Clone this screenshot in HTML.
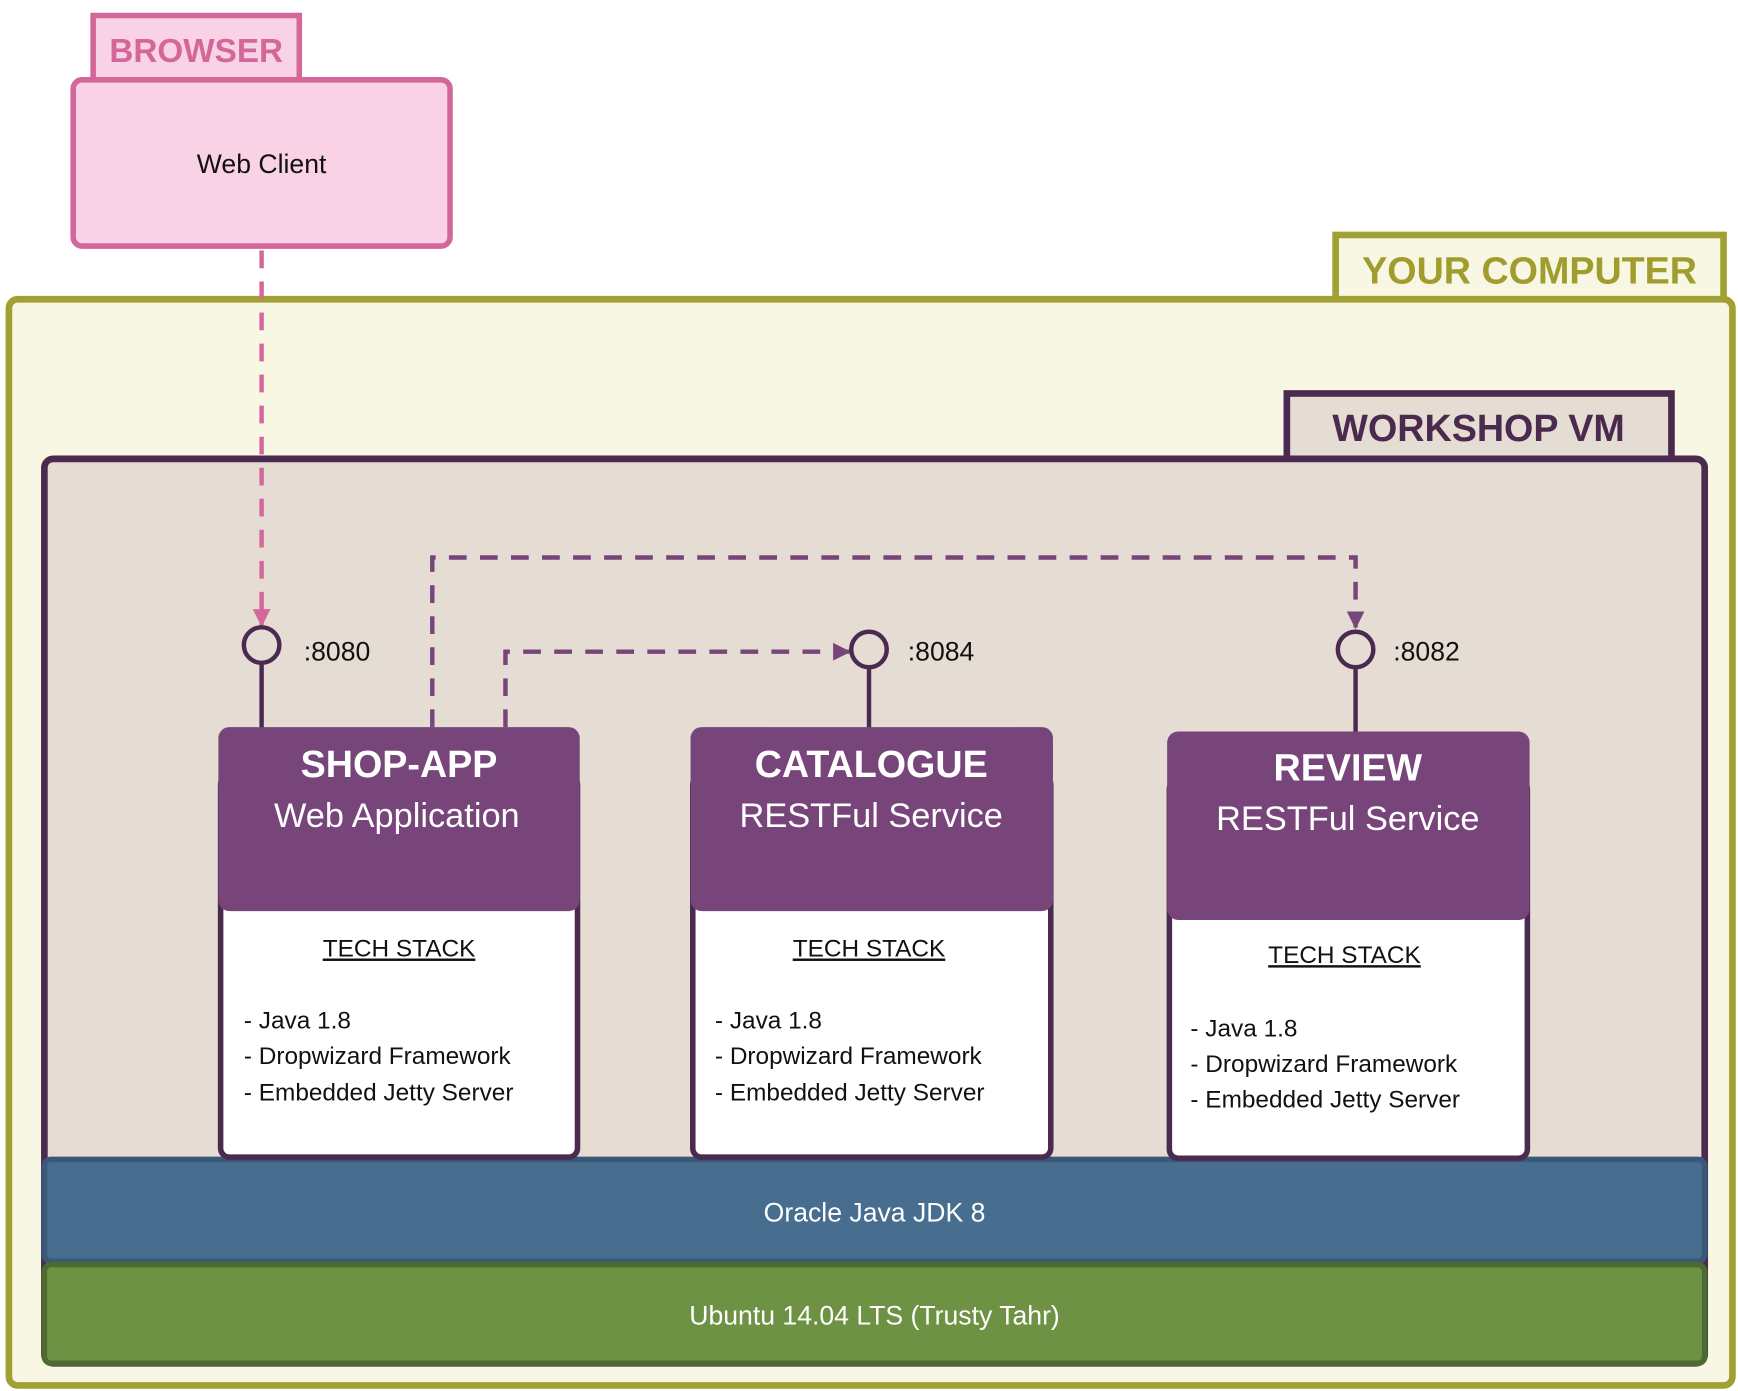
<!DOCTYPE html>
<html><head><meta charset="utf-8"><style>
html,body{margin:0;padding:0;background:#fff}
svg{display:block}
text{font-family:"Liberation Sans",sans-serif}
</style></head><body>
<svg width="1738" height="1391" viewBox="0 0 1568 1255" xmlns="http://www.w3.org/2000/svg">
<defs>
<marker id="ap" viewBox="0 0 10 10" refX="9" refY="5" markerWidth="4" markerHeight="4" orient="auto"><path d="M0,0L10,5L0,10z" fill="#d4679a"/></marker>
<marker id="au" viewBox="0 0 10 10" refX="9" refY="5" markerWidth="4" markerHeight="4" orient="auto"><path d="M0,0L10,5L0,10z" fill="#77457a"/></marker>
</defs>
<!-- Browser -->
<rect x="84" y="14" width="186" height="58" fill="#f9d3e5" stroke="#d4679a" stroke-width="5"/>
<text x="177" y="56" font-size="30" font-weight="bold" fill="#d4679a" text-anchor="middle">BROWSER</text>
<rect x="66" y="72" width="340" height="150" rx="8" fill="#f9d3e5" stroke="#d4679a" stroke-width="5"/>
<text x="236" y="156" font-size="24" fill="#111" text-anchor="middle">Web Client</text>
<!-- Your computer -->
<rect x="1205" y="212" width="350" height="60" fill="#f8f7e3" stroke="#a0a033" stroke-width="6"/>
<text x="1380" y="256" font-size="34" font-weight="bold" fill="#a09d2e" text-anchor="middle">YOUR COMPUTER</text>
<rect x="8" y="270" width="1555" height="980" rx="8" fill="#f8f7e3" stroke="#a0a033" stroke-width="6"/>
<!-- Workshop VM -->
<rect x="1161" y="355" width="347" height="60" fill="#e5ddd4" stroke="#4a2a4e" stroke-width="6"/>
<text x="1334" y="398" font-size="34" font-weight="bold" fill="#4a2a4e" text-anchor="middle">WORKSHOP VM</text>
<rect x="40" y="414" width="1498" height="816" rx="8" fill="#e5ddd4" stroke="#4a2a4e" stroke-width="6"/>
<!-- Bands -->
<rect x="40" y="1046" width="1498" height="92" rx="6" fill="#476d8f" stroke="#3a5878" stroke-width="5"/>
<text x="789" y="1102" font-size="24" fill="#fff" text-anchor="middle">Oracle Java JDK 8</text>
<rect x="40" y="1141" width="1498" height="89" rx="6" fill="#6e9244" stroke="#4d6a30" stroke-width="5"/>
<text x="789" y="1195" font-size="24" fill="#fff" text-anchor="middle">Ubuntu 14.04 LTS (Trusty Tahr)</text>
<!-- connectors -->
<path d="M236,226 V564" fill="none" stroke="#d4679a" stroke-width="4" stroke-dasharray="16,12" marker-end="url(#ap)"/>
<path d="M390,656 V503 H1223 V566" fill="none" stroke="#77457a" stroke-width="4" stroke-dasharray="16,12" marker-end="url(#au)"/>
<path d="M456,656 V588 H766" fill="none" stroke="#77457a" stroke-width="4" stroke-dasharray="16,12" marker-end="url(#au)"/>
<!-- lollipops -->
<g stroke="#4a2a4e" stroke-width="4" fill="none">
<circle cx="236" cy="582" r="16"/><line x1="236" y1="598" x2="236" y2="658"/>
<circle cx="784" cy="586" r="16"/><line x1="784" y1="602" x2="784" y2="658"/>
<circle cx="1223" cy="586" r="16"/><line x1="1223" y1="602" x2="1223" y2="662"/>
</g>
<g font-size="24" fill="#111"><text x="274" y="596">:8080</text><text x="819" y="596">:8084</text><text x="1257" y="596">:8082</text></g>
<!-- services -->
<g>
<rect x="199" y="700" width="322" height="344" rx="8" fill="#fff" stroke="#4a2a4e" stroke-width="5"/>
<rect x="197" y="656" width="326" height="166" rx="10" fill="#77457a"/>
<text x="360" y="701" font-size="34" font-weight="bold" fill="#fff" text-anchor="middle">SHOP-APP</text>
<text x="358" y="746" font-size="31" fill="#fff" text-anchor="middle">Web Application</text>
<text x="360" y="863" font-size="22" fill="#111" text-anchor="middle" text-decoration="underline">TECH STACK</text>
<text x="220" y="928" font-size="22" fill="#111">- Java 1.8</text>
<text x="220" y="960" font-size="22" fill="#111">- Dropwizard Framework</text>
<text x="220" y="993" font-size="22" fill="#111">- Embedded Jetty Server</text>
</g>
<g>
<rect x="625" y="700" width="323" height="344" rx="8" fill="#fff" stroke="#4a2a4e" stroke-width="5"/>
<rect x="623" y="656" width="327" height="166" rx="10" fill="#77457a"/>
<text x="786" y="701" font-size="34" font-weight="bold" fill="#fff" text-anchor="middle">CATALOGUE</text>
<text x="786" y="746" font-size="31" fill="#fff" text-anchor="middle">RESTFul Service</text>
<text x="784" y="863" font-size="22" fill="#111" text-anchor="middle" text-decoration="underline">TECH STACK</text>
<text x="645" y="928" font-size="22" fill="#111">- Java 1.8</text>
<text x="645" y="960" font-size="22" fill="#111">- Dropwizard Framework</text>
<text x="645" y="993" font-size="22" fill="#111">- Embedded Jetty Server</text>
</g>
<g>
<rect x="1055" y="704" width="323" height="341" rx="8" fill="#fff" stroke="#4a2a4e" stroke-width="5"/>
<rect x="1053" y="660" width="327" height="170" rx="10" fill="#77457a"/>
<text x="1216" y="704" font-size="34" font-weight="bold" fill="#fff" text-anchor="middle">REVIEW</text>
<text x="1216" y="749" font-size="31" fill="#fff" text-anchor="middle">RESTFul Service</text>
<text x="1213" y="869" font-size="22" fill="#111" text-anchor="middle" text-decoration="underline">TECH STACK</text>
<text x="1074" y="935" font-size="22" fill="#111">- Java 1.8</text>
<text x="1074" y="967" font-size="22" fill="#111">- Dropwizard Framework</text>
<text x="1074" y="999" font-size="22" fill="#111">- Embedded Jetty Server</text>
</g>
</svg>
</body></html>
